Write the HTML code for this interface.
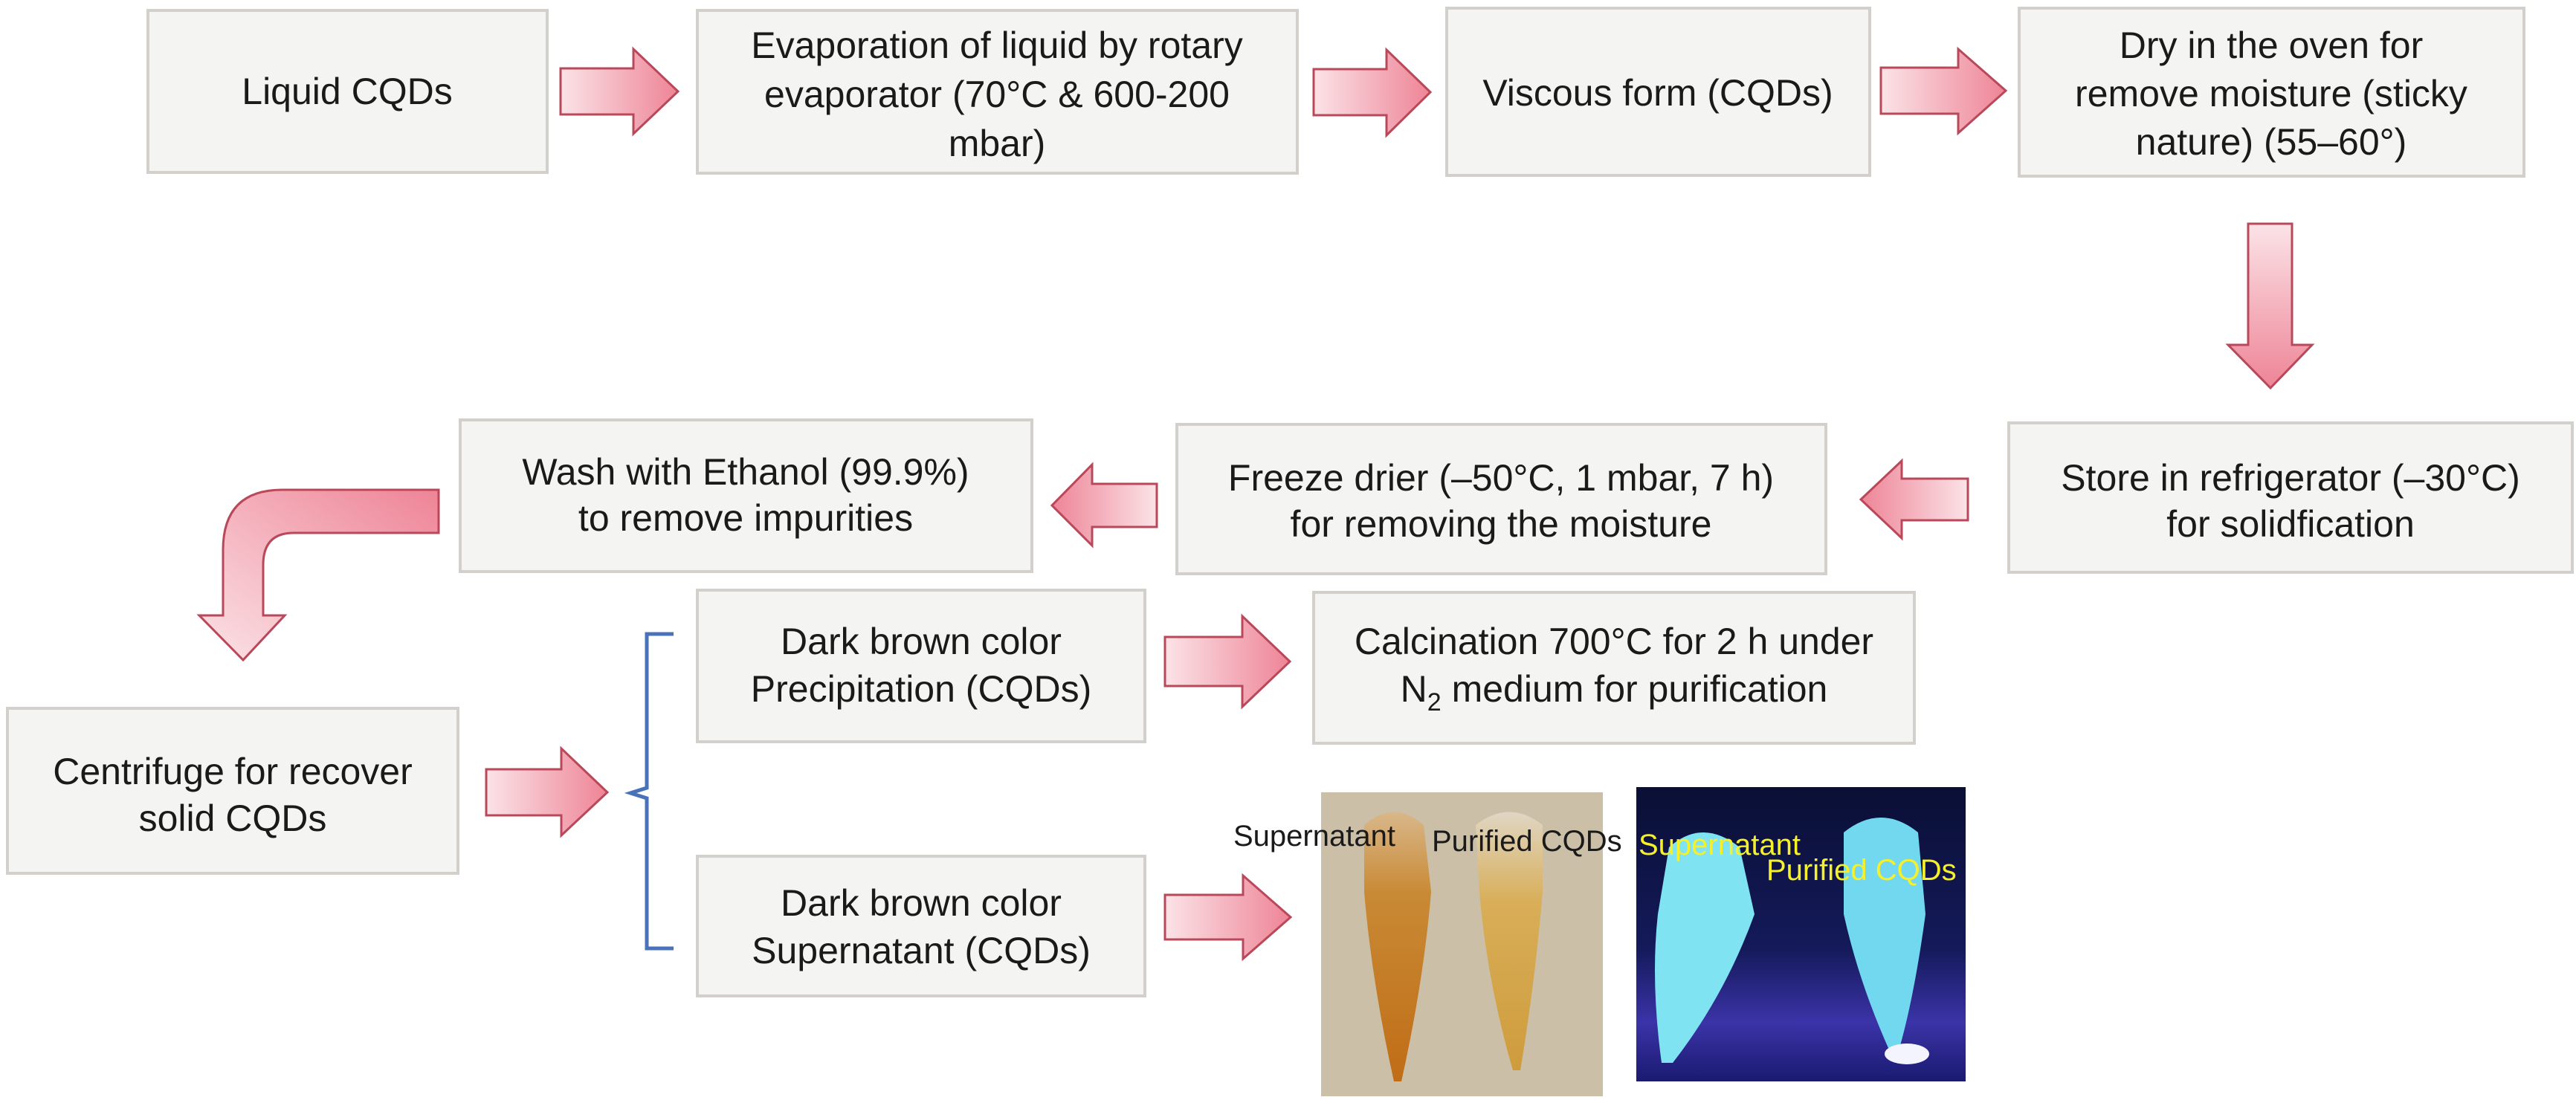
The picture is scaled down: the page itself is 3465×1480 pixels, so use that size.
<!DOCTYPE html>
<html><head><meta charset="utf-8"><style>
html,body{margin:0;padding:0;background:#fff;}
svg{display:block;}
text{font-family:"Liberation Sans",Arial,sans-serif;fill:#1a1a1a;}
</style></head><body>
<svg width="3465" height="1480" viewBox="0 0 3465 1480" xmlns="http://www.w3.org/2000/svg">
<defs>
<linearGradient id="gr" x1="0" y1="0" x2="1" y2="0"><stop offset="0" stop-color="#fbe3e7"/><stop offset="1" stop-color="#ee8496"/></linearGradient>
<linearGradient id="gl" x1="1" y1="0" x2="0" y2="0"><stop offset="0" stop-color="#fbe3e7"/><stop offset="1" stop-color="#ee8496"/></linearGradient>
<linearGradient id="gd" x1="0" y1="0" x2="0" y2="1"><stop offset="0" stop-color="#fbe3e7"/><stop offset="1" stop-color="#ee8496"/></linearGradient>
<linearGradient id="gc" x1="1" y1="0" x2="0" y2="1"><stop offset="0" stop-color="#ee8496"/><stop offset="1" stop-color="#fbe3e7"/></linearGradient>
<linearGradient id="p2" x1="0" y1="0" x2="0" y2="1"><stop offset="0" stop-color="#0a0f35"/><stop offset="0.55" stop-color="#141a5a"/><stop offset="0.8" stop-color="#3b33a8"/><stop offset="1" stop-color="#1a1a70"/></linearGradient>
<linearGradient id="t1" x1="0" y1="0" x2="0" y2="1"><stop offset="0" stop-color="#d9b78a"/><stop offset="0.3" stop-color="#c98a35"/><stop offset="1" stop-color="#c06d16"/></linearGradient>
<linearGradient id="t2" x1="0" y1="0" x2="0" y2="1"><stop offset="0" stop-color="#e0d6c4"/><stop offset="0.35" stop-color="#d8ae58"/><stop offset="1" stop-color="#cf9c3c"/></linearGradient>
</defs>
<g fill="#f4f4f3" stroke="#d3cfcb" stroke-width="4">
<rect x="199" y="14" width="537" height="218"/>
<rect x="938" y="14" width="807" height="219"/>
<rect x="1946" y="11" width="569" height="225"/>
<rect x="2716" y="11" width="679" height="226"/>
<rect x="2702" y="569" width="758" height="201"/>
<rect x="1583" y="571" width="873" height="201"/>
<rect x="619" y="565" width="769" height="204"/>
<rect x="10" y="953" width="606" height="222"/>
<rect x="938" y="794" width="602" height="204"/>
<rect x="1767" y="797" width="808" height="203"/>
<rect x="938" y="1152" width="602" height="188"/>
</g>
<g stroke="#b8485a" stroke-width="3">
<polygon fill="url(#gr)" points="754,92 852,92 852,66 912,123 852,180 852,154 754,154"/>
<polygon fill="url(#gr)" points="1767,93 1865,93 1865,67 1924,124 1865,182 1865,155 1767,155"/>
<polygon fill="url(#gr)" points="2530,91 2634,91 2634,66 2698,122 2634,179 2634,153 2530,153"/>
<polygon fill="url(#gl)" points="2647,644 2558,644 2558,620 2503,672 2558,724 2558,700 2647,700"/>
<polygon fill="url(#gl)" points="1556,651 1469,651 1469,625 1415,680 1469,734 1469,709 1556,709"/>
<polygon fill="url(#gr)" points="654,1035 755,1035 755,1007 817,1066 755,1124 755,1097 654,1097"/>
<polygon fill="url(#gr)" points="1567,857 1671,857 1671,829 1735,890 1671,951 1671,923 1567,923"/>
<polygon fill="url(#gr)" points="1567,1204 1672,1204 1672,1178 1736,1234 1672,1290 1672,1264 1567,1264"/>
<polygon fill="url(#gd)" points="3024,301 3083,301 3083,464 3110,464 3054,522 2997,464 3024,464"/>
<path fill="url(#gc)" d="M590,659 L380,659 Q300,659 300,740 L300,828 L268,828 L327,888 L383,828 L354,828 L354,760 Q354,717 395,717 L590,717 Z"/>
</g>
<path d="M906,853 L870,853 L870,1060 L848,1067 L870,1074 L870,1276 L906,1276" fill="none" stroke="#4a72b8" stroke-width="5"/>
<g font-size="50" text-anchor="middle">
<text x="467" y="140">Liquid CQDs</text>
<text x="1341" y="78">Evaporation of liquid by rotary</text>
<text x="1341" y="144">evaporator (70°C &amp; 600-200</text>
<text x="1341" y="210">mbar)</text>
<text x="2230" y="142">Viscous form (CQDs)</text>
<text x="3055" y="78">Dry in the oven for</text>
<text x="3055" y="143">remove moisture (sticky</text>
<text x="3055" y="208">nature) (55–60°)</text>
<text x="3081" y="660">Store in refrigerator (–30°C)</text>
<text x="3081" y="722">for solidfication</text>
<text x="2019" y="660">Freeze drier (–50°C, 1 mbar, 7 h)</text>
<text x="2019" y="722">for removing the moisture</text>
<text x="1003" y="652">Wash with Ethanol (99.9%)</text>
<text x="1003" y="714">to remove impurities</text>
<text x="313" y="1055">Centrifuge for recover</text>
<text x="313" y="1118">solid CQDs</text>
<text x="1239" y="880">Dark brown color</text>
<text x="1239" y="944">Precipitation (CQDs)</text>
<text x="2171" y="880">Calcination 700°C for 2 h under</text>
<text x="2171" y="944">N<tspan font-size="34" dy="12">2</tspan><tspan dy="-12"> medium for purification</tspan></text>
<text x="1239" y="1232">Dark brown color</text>
<text x="1239" y="1296">Supernatant (CQDs)</text>
</g>
<rect x="1777" y="1066" width="379" height="409" fill="#cbbfa8"/>
<path d="M1835,1110 Q1875,1075 1915,1110 L1925,1200 Q1915,1320 1885,1455 L1875,1455 Q1845,1320 1835,1200 Z" fill="url(#t1)"/>
<path d="M1985,1110 Q2030,1075 2075,1110 L2075,1200 Q2065,1320 2045,1440 L2035,1440 Q2000,1320 1990,1200 Z" fill="url(#t2)"/>
<rect x="2201" y="1059" width="443" height="396" fill="url(#p2)"/>
<path d="M2245,1140 Q2290,1100 2340,1140 L2360,1230 Q2320,1340 2250,1430 L2235,1430 Q2220,1320 2230,1230 Z" fill="#7fe3f2"/>
<path d="M2480,1120 Q2530,1080 2580,1120 L2590,1230 Q2575,1340 2555,1410 L2540,1410 Q2500,1320 2480,1230 Z" fill="#72d8f0"/>
<ellipse cx="2565" cy="1418" rx="30" ry="14" fill="#f4f4ff"/>
<g font-size="40">
<text x="1659" y="1138">Supernatant</text>
<text x="1926" y="1145">Purified CQDs</text>
<text x="2204" y="1150" style="fill:#f5f02a">Supernatant</text>
<text x="2376" y="1184" style="fill:#f5f02a">Purified CQDs</text>
</g>
</svg>
</body></html>
